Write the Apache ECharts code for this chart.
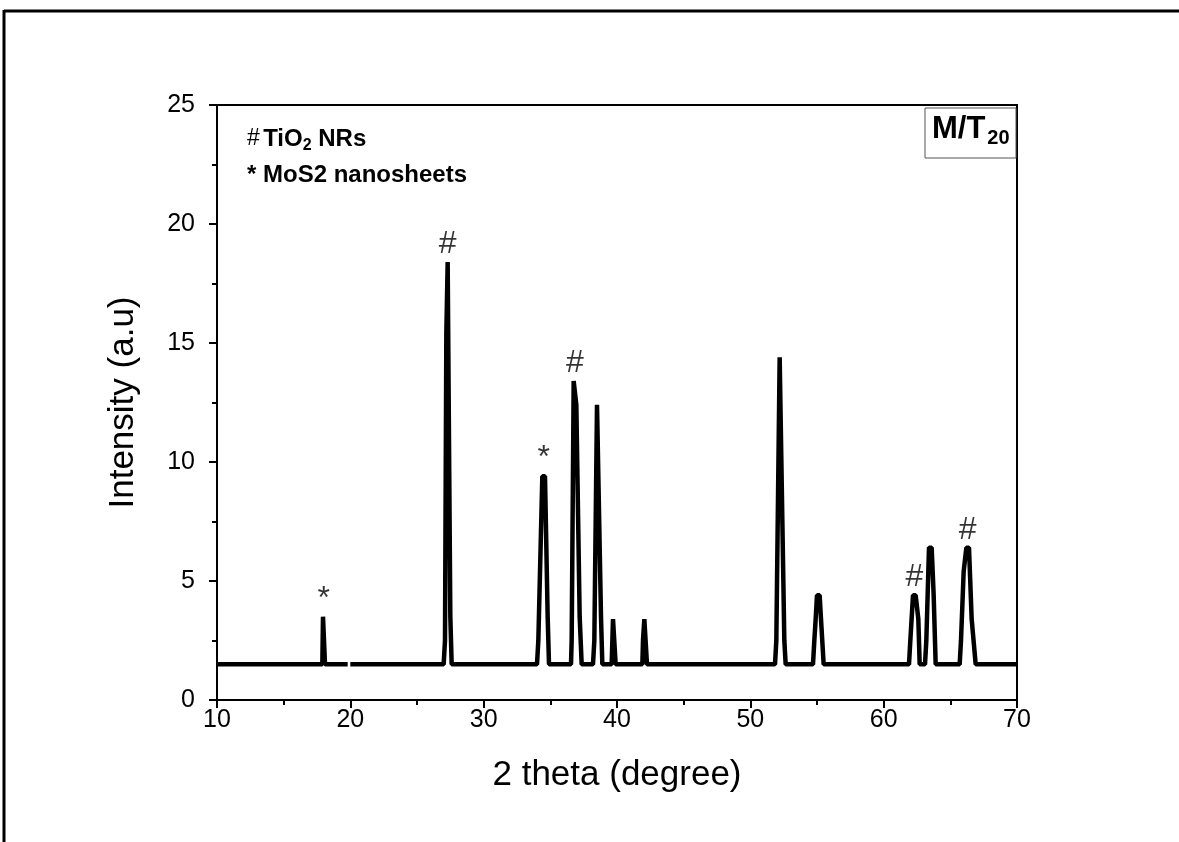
<!DOCTYPE html>
<html>
<head>
<meta charset="utf-8">
<script src="https://cdn.jsdelivr.net/npm/echarts@6/dist/echarts.min.js"></script>
<style>
  html, body { margin: 0; padding: 0; background: #fff; }
  #chart { width: 1179px; height: 842px; }
</style>
</head>
<body>
<div id="chart"></div>
<script>
  // XRD pattern, 2 theta (degree) vs intensity (a.u)
  const theta = [10, 17.9, 17.95, 18.05, 18.1, 19.8, 19.9, 20.0,
    27.0, 27.1, 27.2, 27.3, 27.4, 27.5, 27.6,
    34.0, 34.1, 34.4, 34.6, 34.8, 34.9,
    36.55, 36.6, 36.75, 36.85, 36.95, 37.2, 37.35,
    38.2, 38.3, 38.5, 38.6, 38.8, 38.9,
    39.6, 39.7, 39.8, 39.9,
    41.9, 41.95, 42.05, 42.15, 42.25,
    51.85, 51.95, 52.2, 52.35, 52.55, 52.65,
    54.7, 54.8, 54.9, 55.0, 55.2, 55.3, 55.5,
    61.9, 62.0, 62.2, 62.4, 62.6, 62.7,
    63.1, 63.2, 63.4, 63.6, 63.75, 63.9,
    65.7, 65.8, 66.0, 66.2, 66.4, 66.6, 66.9, 70]
  const intensity = [1.5, 1.5, 3.5, 3.5, 1.5, 1.5, null, 1.5,
    1.5, 2.5, 15.4, 18.4, 18.4, 3.5, 1.5,
    1.5, 2.5, 9.4, 9.4, 3.5, 1.5,
    1.5, 2.5, 13.4, 13.4, 12.4, 3.5, 1.5,
    1.5, 2.5, 12.4, 12.4, 3.5, 1.5,
    1.5, 3.4, 3.4, 1.5,
    1.5, 2.5, 3.4, 3.4, 1.5,
    1.5, 2.5, 14.4, 14.4, 2.5, 1.5,
    1.5, 2.5, 3.4, 4.4, 4.4, 3.4, 1.5,
    1.5, 2.5, 4.4, 4.4, 3.4, 1.5,
    1.5, 2.5, 6.4, 6.4, 4.4, 1.5,
    1.5, 2.5, 5.4, 6.4, 6.4, 3.4, 1.5, 1.5]

  // peak markers
  const markTheta = [18.0, 27.3, 34.5, 36.85, 62.3, 66.3]
  const markValue = [3.5, 18.4, 9.4, 13.4, 4.4, 6.4]
  const markText = ['*', '#', '*', '#', '#', '#']

  const xTicks = { min: 10, max: 70, interval: 10 }
  const yTicks = { min: 0, max: 25, interval: 5 }

  const chart = echarts.init(document.getElementById('chart'))

  const font = '"Liberation Sans", Arial, sans-serif'
  const axisCommon = {
    axisLine: { show: true, onZero: false, lineStyle: { color: '#000', width: 2 } },
    axisTick: { show: true, inside: false, length: 8, lineStyle: { color: '#000', width: 2 } },
    minorTick: { show: true, splitNumber: 2, length: 5, lineStyle: { color: '#000', width: 2 } },
    splitLine: { show: false },
    axisLabel: { color: '#000', fontSize: 25, fontFamily: font },
    nameTextStyle: { color: '#000', fontSize: 35, fontFamily: font }
  }

  const options = {
    backgroundColor: '#fff',
    animation: false,
    grid: {
      left: 217,
      right: 162,
      top: 105,
      bottom: 142,
      show: true,
      borderColor: '#000',
      borderWidth: 2
    },
    xAxis: Object.assign({}, axisCommon, {
      type: 'value',
      min: xTicks.min,
      max: xTicks.max,
      interval: xTicks.interval,
      name: '2 theta (degree)',
      nameLocation: 'middle',
      nameGap: 58,
      axisLabel: Object.assign({}, axisCommon.axisLabel, { margin: 8 })
    }),
    yAxis: Object.assign({}, axisCommon, {
      type: 'value',
      min: yTicks.min,
      max: yTicks.max,
      interval: yTicks.interval,
      name: 'Intensity (a.u)',
      nameLocation: 'middle',
      nameGap: 76,
      axisLabel: Object.assign({}, axisCommon.axisLabel, { margin: 22 })
    }),
    graphic: [
      // outer frame (cropped on right and bottom)
      { type: 'line', shape: { x1: 4, y1: 11, x2: 1179, y2: 11 }, style: { stroke: '#000', lineWidth: 3 } },
      { type: 'line', shape: { x1: 4, y1: 10, x2: 4, y2: 842 }, style: { stroke: '#000', lineWidth: 3 } },
      {
        type: 'text',
        left: 247,
        top: 127,
        style: {
          text: '{h|#} {b|TiO}{s|2}{b| NRs}',
          rich: {
            h: { fontSize: 23, fontFamily: font, fill: '#000' },
            b: { fontSize: 24, fontWeight: 'bold', fontFamily: font, fill: '#000' },
            s: { fontSize: 16, fontWeight: 'bold', fontFamily: font, fill: '#000', padding: [13, 0, 0, 0] }
          }
        }
      },
      {
        type: 'text',
        left: 247,
        top: 163,
        style: {
          text: '* MoS2 nanosheets',
          font: 'bold 24px "Liberation Sans", Arial',
          fill: '#000'
        }
      },
      {
        type: 'rect',
        shape: { x: 925, y: 108, width: 91, height: 50 },
        style: { fill: '#fff', stroke: '#555', lineWidth: 1 }
      },
      {
        type: 'text',
        left: 932,
        top: 114,
        style: {
          text: '{m|M/T}{s|20}',
          rich: {
            m: { fontSize: 31, fontWeight: 'bold', fontFamily: font, fill: '#000' },
            s: { fontSize: 20, fontWeight: 'bold', fontFamily: font, fill: '#000', padding: [17, 0, 0, 2] }
          }
        }
      }
    ],
    series: [
      {
        type: 'line',
        data: theta.map((t, i) => [t, intensity[i]]),
        showSymbol: false,
        connectNulls: false,
        lineStyle: { color: '#000', width: 4.5 },
        z: 3
      },
      {
        type: 'scatter',
        data: markTheta.map((t, i) => [t, markValue[i]]),
        symbolSize: 0,
        label: {
          show: true,
          position: 'top',
          distance: 2,
          formatter: p => markText[p.dataIndex],
          color: '#000',
          fontSize: 32,
          fontFamily: font
        },
        z: 4
      }
    ]
  }

  chart.setOption(options)
</script>
</body>
</html>
